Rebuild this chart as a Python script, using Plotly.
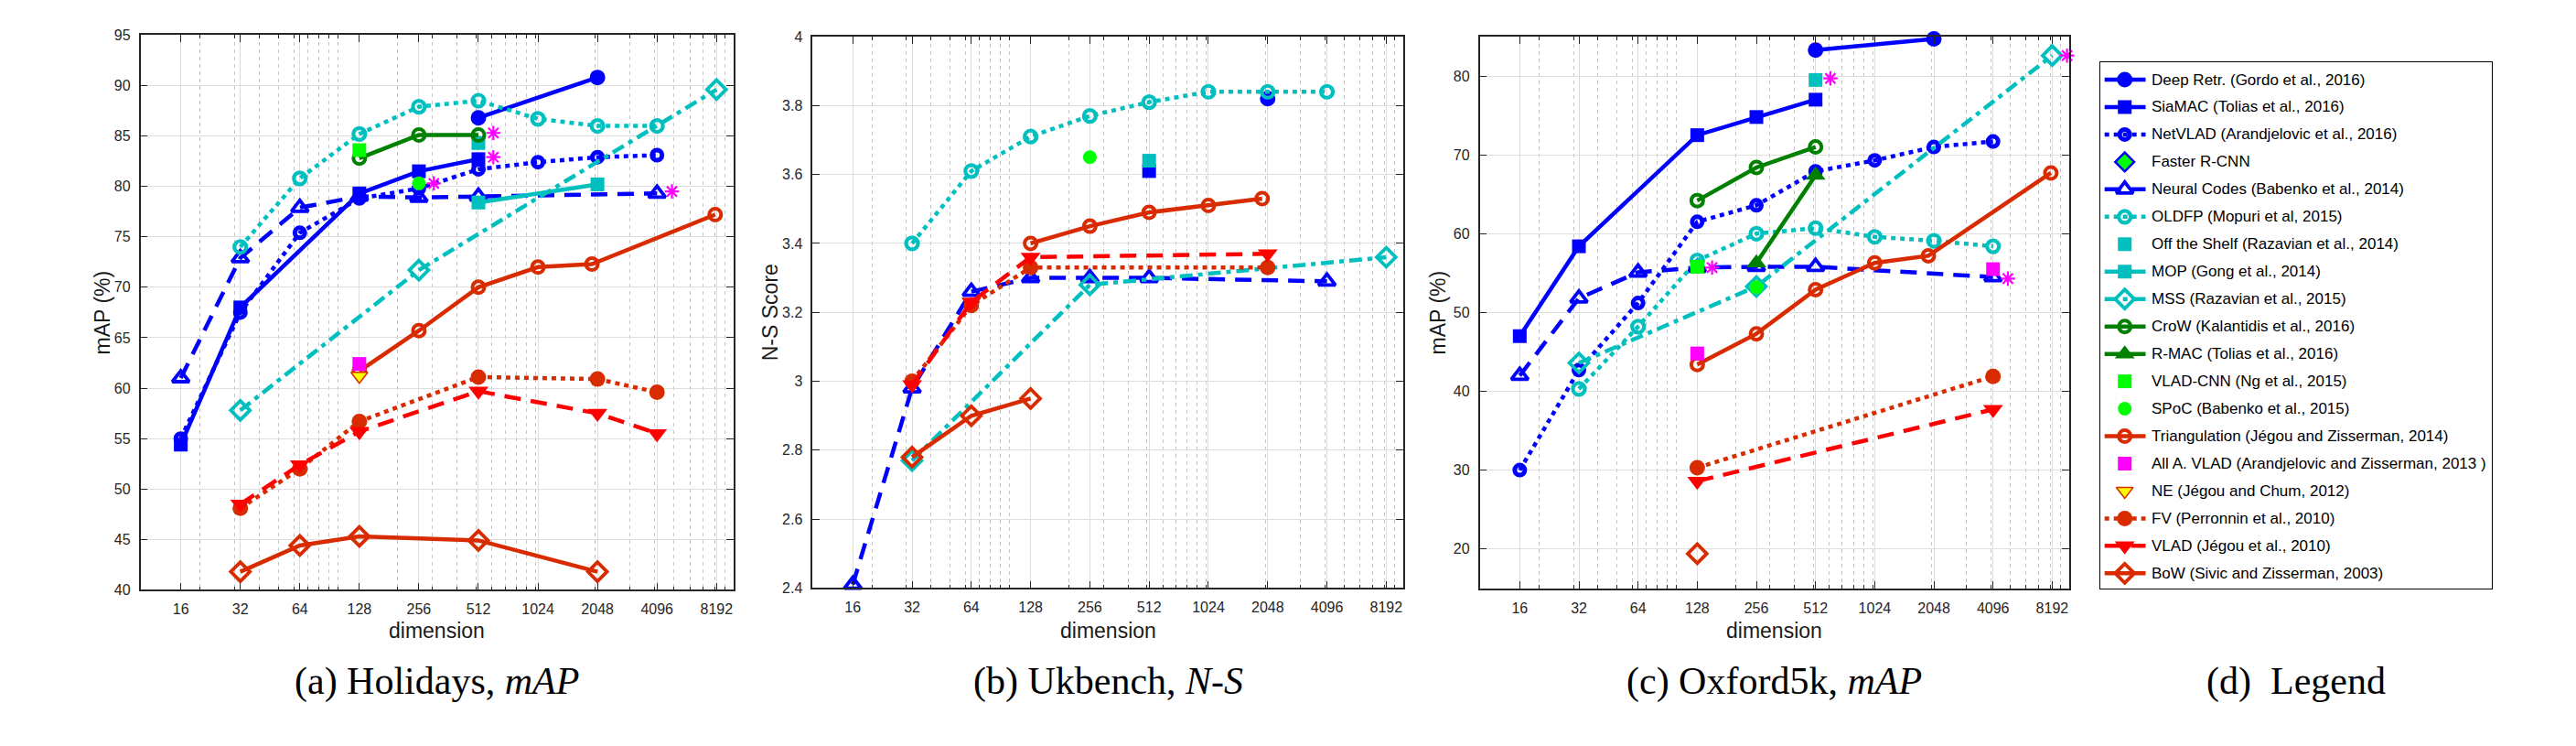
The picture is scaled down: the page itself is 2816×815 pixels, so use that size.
import plotly.graph_objects as go

W, H = 2816, 815

# ---------------- tick definitions ----------------
DIM_TICKS = [16, 32, 64, 128, 256, 512, 1024, 2048, 4096, 8192]
DIM_MINOR = [20, 30, 40, 50, 60, 70, 80, 90, 100, 200, 300, 400, 500, 600, 700, 800, 900,
             1000, 2000, 3000, 4000, 5000, 6000, 7000, 8000, 9000]
HOL_TICKS = [40, 45, 50, 55, 60, 65, 70, 75, 80, 85, 90, 95]
UKB_TICKS = [2.4, 2.6, 2.8, 3.0, 3.2, 3.4, 3.6, 3.8, 4.0]
UKB_TICK_TEXT = ["2.4", "2.6", "2.8", "3", "3.2", "3.4", "3.6", "3.8", "4"]
OXF_TICKS = [20, 30, 40, 50, 60, 70, 80]

# ---------------- (a) Holidays, mAP ----------------
HOL_DEEP_DIM = [512, 2048]
HOL_DEEP_VAL = [86.8, 90.8]
HOL_SIAMAC_DIM = [16, 32, 128, 256, 512]
HOL_SIAMAC_VAL = [54.4, 68.0, 79.3, 81.5, 82.7]
HOL_NETVLAD_DIM = [16, 32, 64, 128, 256, 512, 1024, 2048, 4096]
HOL_NETVLAD_VAL = [55.0, 67.5, 75.4, 78.8, 79.8, 81.7, 82.4, 82.9, 83.1]
HOL_NEURAL_DIM = [16, 32, 64, 128, 256, 512, 4096]
HOL_NEURAL_VAL = [61.0, 72.9, 77.9, 79.0, 78.9, 79.0, 79.3]
HOL_OLDFP_DIM = [32, 64, 128, 256, 512, 1024, 2048, 4096]
HOL_OLDFP_VAL = [74.0, 80.8, 85.2, 87.9, 88.5, 86.7, 86.0, 86.0]
HOL_SHELF_DIM = [512]
HOL_SHELF_VAL = [84.3]
HOL_MOP_DIM = [512, 2048]
HOL_MOP_VAL = [78.4, 80.2]
HOL_MSS_DIM = [32, 256, 8192]
HOL_MSS_VAL = [57.8, 71.7, 89.6]
HOL_CROW_DIM = [128, 256, 512]
HOL_CROW_VAL = [82.8, 85.1, 85.1]
HOL_VLADCNN_DIM = [128]
HOL_VLADCNN_VAL = [83.6]
HOL_SPOC_DIM = [256]
HOL_SPOC_VAL = [80.3]
HOL_TRI_DIM = [128, 256, 512, 1024, 1920, 8064]
HOL_TRI_VAL = [61.7, 65.7, 70.0, 72.0, 72.3, 77.2]
HOL_AAVLAD_DIM = [128]
HOL_AAVLAD_VAL = [62.4]
HOL_NE_DIM = [128]
HOL_NE_VAL = [61.2]
HOL_FV_DIM = [32, 64, 128, 512, 2048, 4096]
HOL_FV_VAL = [48.1, 52.0, 56.7, 61.1, 60.9, 59.6]
HOL_VLAD_DIM = [32, 64, 128, 512, 2048, 4096]
HOL_VLAD_VAL = [48.5, 52.4, 55.7, 59.7, 57.5, 55.5]
HOL_BOW_DIM = [32, 64, 128, 512, 2048]
HOL_BOW_VAL = [41.8, 44.4, 45.3, 44.9, 41.8]
HOL_STAR_DIM = [256, 512, 512, 4096]
HOL_STAR_VAL = [80.3, 85.3, 82.9, 79.5]

# ---------------- (b) Ukbench, N-S ----------------
UKB_DEEP_DIM = [2048]
UKB_DEEP_VAL = [3.82]
UKB_SIAMAC_DIM = [512]
UKB_SIAMAC_VAL = [3.61]
UKB_NEURAL_DIM = [16, 32, 64, 128, 256, 512, 4096]
UKB_NEURAL_VAL = [2.41, 2.98, 3.26, 3.30, 3.30, 3.30, 3.29]
UKB_OLDFP_DIM = [32, 64, 128, 256, 512, 1024, 2048, 4096]
UKB_OLDFP_VAL = [3.40, 3.61, 3.71, 3.77, 3.81, 3.84, 3.84, 3.84]
UKB_SHELF_DIM = [512]
UKB_SHELF_VAL = [3.64]
UKB_MSS_DIM = [32, 256, 8192]
UKB_MSS_VAL = [2.77, 3.28, 3.36]
UKB_SPOC_DIM = [256]
UKB_SPOC_VAL = [3.65]
UKB_TRI_DIM = [128, 256, 512, 1024, 1920]
UKB_TRI_VAL = [3.40, 3.45, 3.49, 3.51, 3.53]
UKB_FV_DIM = [32, 64, 128, 2048]
UKB_FV_VAL = [3.00, 3.22, 3.33, 3.33]
UKB_VLAD_DIM = [32, 64, 128, 2048]
UKB_VLAD_VAL = [2.99, 3.23, 3.36, 3.37]
UKB_BOW_DIM = [32, 64, 128]
UKB_BOW_VAL = [2.78, 2.90, 2.95]

# ---------------- (c) Oxford5k, mAP ----------------
OXF_DEEP_DIM = [512, 2048]
OXF_DEEP_VAL = [83.3, 84.7]
OXF_SIAMAC_DIM = [16, 32, 128, 256, 512]
OXF_SIAMAC_VAL = [47.0, 58.4, 72.5, 74.8, 77.0]
OXF_NETVLAD_DIM = [16, 32, 64, 128, 256, 512, 1024, 2048, 4096]
OXF_NETVLAD_VAL = [30.0, 42.7, 51.2, 61.5, 63.6, 67.9, 69.3, 71.0, 71.7]
OXF_NEURAL_DIM = [16, 32, 64, 128, 256, 512, 4096]
OXF_NEURAL_VAL = [42.0, 51.8, 55.1, 55.7, 55.8, 55.8, 54.5]
OXF_OLDFP_DIM = [32, 64, 128, 256, 512, 1024, 2048, 4096]
OXF_OLDFP_VAL = [40.3, 48.2, 56.6, 60.0, 60.7, 59.6, 59.1, 58.4]
OXF_SHELF_DIM = [512]
OXF_SHELF_VAL = [79.5]
OXF_MSS_DIM = [32, 256, 8192]
OXF_MSS_VAL = [43.6, 53.3, 82.6]
OXF_CROW_DIM = [128, 256, 512]
OXF_CROW_VAL = [64.2, 68.4, 71.0]
OXF_RMAC_DIM = [256, 512]
OXF_RMAC_VAL = [56.3, 67.4]
OXF_VLADCNN_DIM = [128]
OXF_VLADCNN_VAL = [55.8]
OXF_SPOC_DIM = [256]
OXF_SPOC_VAL = [53.2]
OXF_TRI_DIM = [128, 256, 512, 1024, 1920, 8064]
OXF_TRI_VAL = [43.4, 47.3, 52.9, 56.3, 57.2, 67.7]
OXF_AAVLAD_DIM = [128, 4096]
OXF_AAVLAD_VAL = [44.8, 55.5]
OXF_FV_DIM = [128, 4096]
OXF_FV_VAL = [30.3, 41.9]
OXF_VLAD_DIM = [128, 4096]
OXF_VLAD_VAL = [28.6, 37.7]
OXF_BOW_DIM = [128]
OXF_BOW_VAL = [19.4]
OXF_STAR_DIM = [128, 512, 4096, 8192]
OXF_STAR_VAL = [55.7, 79.7, 54.3, 82.6]

# ---------------- legend labels ----------------
METHODS = ["Deep Retr.", "SiaMAC", "NetVLAD", "Faster R-CNN", "Neural Codes", "OLDFP",
           "Off the Shelf", "MOP", "MSS", "CroW", "R-MAC", "VLAD-CNN", "SPoC",
           "Triangulation", "All A. VLAD", "NE", "FV", "VLAD", "BoW"]
LEGEND_LABELS = [
    "Deep Retr. (Gordo et al., 2016)",
    "SiaMAC (Tolias et al., 2016)",
    "NetVLAD (Arandjelovic et al., 2016)",
    "Faster R-CNN",
    "Neural Codes (Babenko et al., 2014)",
    "OLDFP (Mopuri et al, 2015)",
    "Off the Shelf (Razavian et al., 2014)",
    "MOP (Gong et al., 2014)",
    "MSS (Razavian et al., 2015)",
    "CroW (Kalantidis et al., 2016)",
    "R-MAC (Tolias et al., 2016)",
    "VLAD-CNN (Ng et al., 2015)",
    "SPoC (Babenko et al., 2015)",
    "Triangulation (Jégou and Zisserman, 2014)",
    "All A. VLAD (Arandjelovic and Zisserman, 2013 )",
    "NE (Jégou and Chum, 2012)",
    "FV (Perronnin et al., 2010)",
    "VLAD (Jégou et al., 2010)",
    "BoW (Sivic and Zisserman, 2003)",
]

# ---------------- styles ----------------
BLUE = "#0000FF"
CYAN = "#00BFBF"
DGREEN = "#008000"
LGREEN = "#00FF00"
ORED = "#D92B00"
RED = "#FF0000"
MAGENTA = "#FF00FF"
YELLOW = "#FFFF00"
AXC = "#262626"

SOLID = "solid"
DASH = "18px,11px"
DOT = "5px,5px"
DASHDOT = "14px,6px,5px,6px"
LW = 4.5

STYLES = {
    "Deep Retr.": dict(color=BLUE, dash=SOLID, symbol="circle", size=17, fill=BLUE, mlw=0),
    "SiaMAC": dict(color=BLUE, dash=SOLID, symbol="square", size=15, fill=BLUE, mlw=0),
    "NetVLAD": dict(color=BLUE, dash=DOT, symbol="circle-open", size=11, fill=None, mlw=5),
    "Faster R-CNN": dict(color=BLUE, dash=None, symbol="diamond", size=16, fill=LGREEN, mlw=2.5),
    "Neural Codes": dict(color=BLUE, dash=DASH, symbol="triangle-up-open", size=16, fill=None, mlw=3.8),
    "OLDFP": dict(color=CYAN, dash=DOT, symbol="circle-open", size=13, fill=None, mlw=4.2),
    "Off the Shelf": dict(color=CYAN, dash=None, symbol="square", size=15, fill=CYAN, mlw=0),
    "MOP": dict(color=CYAN, dash=SOLID, symbol="square", size=15, fill=CYAN, mlw=0),
    "MSS": dict(color=CYAN, dash=DASHDOT, symbol="diamond-open", size=16, fill=None, mlw=3.8),
    "CroW": dict(color=DGREEN, dash=SOLID, symbol="circle-open", size=13, fill=None, mlw=4),
    "R-MAC": dict(color=DGREEN, dash=SOLID, symbol="triangle-up", size=19, fill=DGREEN, mlw=0),
    "VLAD-CNN": dict(color=LGREEN, dash=None, symbol="square", size=15, fill=LGREEN, mlw=0),
    "SPoC": dict(color=LGREEN, dash=None, symbol="circle", size=15, fill=LGREEN, mlw=0),
    "Triangulation": dict(color=ORED, dash=SOLID, symbol="circle-open", size=13, fill=None, mlw=4),
    "All A. VLAD": dict(color=MAGENTA, dash=None, symbol="square", size=15, fill=MAGENTA, mlw=0),
    "NE": dict(color=ORED, dash=None, symbol="triangle-down", size=16, fill=YELLOW, mlw=1.5),
    "FV": dict(color=ORED, dash=DOT, symbol="circle", size=17, fill=ORED, mlw=0),
    "VLAD": dict(color=RED, dash=DASH, symbol="triangle-down", size=19, fill=RED, mlw=0),
    "BoW": dict(color=ORED, dash=SOLID, symbol="diamond-open", size=16, fill=None, mlw=3.8),
}
STAR_OFFSET = 1.19

PANELS = [
    ("x", "y", [
        ("Deep Retr.", HOL_DEEP_DIM, HOL_DEEP_VAL),
        ("SiaMAC", HOL_SIAMAC_DIM, HOL_SIAMAC_VAL),
        ("NetVLAD", HOL_NETVLAD_DIM, HOL_NETVLAD_VAL),
        ("Neural Codes", HOL_NEURAL_DIM, HOL_NEURAL_VAL),
        ("OLDFP", HOL_OLDFP_DIM, HOL_OLDFP_VAL),
        ("Off the Shelf", HOL_SHELF_DIM, HOL_SHELF_VAL),
        ("MOP", HOL_MOP_DIM, HOL_MOP_VAL),
        ("MSS", HOL_MSS_DIM, HOL_MSS_VAL),
        ("CroW", HOL_CROW_DIM, HOL_CROW_VAL),
        ("VLAD-CNN", HOL_VLADCNN_DIM, HOL_VLADCNN_VAL),
        ("SPoC", HOL_SPOC_DIM, HOL_SPOC_VAL),
        ("Triangulation", HOL_TRI_DIM, HOL_TRI_VAL),
        ("All A. VLAD", HOL_AAVLAD_DIM, HOL_AAVLAD_VAL),
        ("NE", HOL_NE_DIM, HOL_NE_VAL),
        ("FV", HOL_FV_DIM, HOL_FV_VAL),
        ("VLAD", HOL_VLAD_DIM, HOL_VLAD_VAL),
        ("BoW", HOL_BOW_DIM, HOL_BOW_VAL),
    ], (HOL_STAR_DIM, HOL_STAR_VAL)),
    ("x2", "y2", [
        ("Deep Retr.", UKB_DEEP_DIM, UKB_DEEP_VAL),
        ("SiaMAC", UKB_SIAMAC_DIM, UKB_SIAMAC_VAL),
        ("Neural Codes", UKB_NEURAL_DIM, UKB_NEURAL_VAL),
        ("OLDFP", UKB_OLDFP_DIM, UKB_OLDFP_VAL),
        ("Off the Shelf", UKB_SHELF_DIM, UKB_SHELF_VAL),
        ("MSS", UKB_MSS_DIM, UKB_MSS_VAL),
        ("SPoC", UKB_SPOC_DIM, UKB_SPOC_VAL),
        ("Triangulation", UKB_TRI_DIM, UKB_TRI_VAL),
        ("FV", UKB_FV_DIM, UKB_FV_VAL),
        ("VLAD", UKB_VLAD_DIM, UKB_VLAD_VAL),
        ("BoW", UKB_BOW_DIM, UKB_BOW_VAL),
    ], None),
    ("x3", "y3", [
        ("Deep Retr.", OXF_DEEP_DIM, OXF_DEEP_VAL),
        ("SiaMAC", OXF_SIAMAC_DIM, OXF_SIAMAC_VAL),
        ("NetVLAD", OXF_NETVLAD_DIM, OXF_NETVLAD_VAL),
        ("Neural Codes", OXF_NEURAL_DIM, OXF_NEURAL_VAL),
        ("OLDFP", OXF_OLDFP_DIM, OXF_OLDFP_VAL),
        ("Off the Shelf", OXF_SHELF_DIM, OXF_SHELF_VAL),
        ("MSS", OXF_MSS_DIM, OXF_MSS_VAL),
        ("CroW", OXF_CROW_DIM, OXF_CROW_VAL),
        ("R-MAC", OXF_RMAC_DIM, OXF_RMAC_VAL),
        ("VLAD-CNN", OXF_VLADCNN_DIM, OXF_VLADCNN_VAL),
        ("SPoC", OXF_SPOC_DIM, OXF_SPOC_VAL),
        ("Triangulation", OXF_TRI_DIM, OXF_TRI_VAL),
        ("All A. VLAD", OXF_AAVLAD_DIM, OXF_AAVLAD_VAL),
        ("FV", OXF_FV_DIM, OXF_FV_VAL),
        ("VLAD", OXF_VLAD_DIM, OXF_VLAD_VAL),
        ("BoW", OXF_BOW_DIM, OXF_BOW_VAL),
    ], (OXF_STAR_DIM, OXF_STAR_VAL)),
]


def marker_of(st):
    if st["fill"] is None:
        return dict(symbol=st["symbol"], size=st["size"], color=st["color"],
                    line=dict(color=st["color"], width=st["mlw"]))
    return dict(symbol=st["symbol"], size=st["size"], color=st["fill"],
                line=dict(color=st["color"], width=st["mlw"]))


fig = go.Figure()

for xa, ya, series, stars in PANELS:
    for name in METHODS:
        for sname, dims, vals in series:
            if sname != name:
                continue
            st = STYLES[name]
            has_line = st["dash"] is not None and len(dims) > 1
            fig.add_trace(go.Scatter(
                x=dims, y=vals, xaxis=xa, yaxis=ya,
                mode="lines+markers" if has_line else "markers",
                line=dict(color=st["color"], width=LW, dash=st["dash"] or "solid"),
                marker=marker_of(st), cliponaxis=False, showlegend=False,
                name=name))
    if stars is not None:
        fig.add_trace(go.Scatter(
            x=[d * STAR_OFFSET for d in stars[0]], y=stars[1], xaxis=xa, yaxis=ya,
            mode="markers", cliponaxis=False, showlegend=False,
            marker=dict(symbol="asterisk-open", size=13, color=MAGENTA,
                        line=dict(color=MAGENTA, width=2.2))))

# ---------------- manual legend (axis 4) ----------------
LEG_ROW0 = 19.7
LEG_STEP = 30.6
LEG_LINE_X = [4.7, 49.5]
LEG_MARK_X = 26.7
LEG_TEXT_X = 54
for i, name in enumerate(METHODS):
    st = STYLES[name]
    yrow = LEG_ROW0 + LEG_STEP * i
    if st["dash"] is not None:
        fig.add_trace(go.Scatter(
            x=LEG_LINE_X, y=[yrow, yrow], xaxis="x4", yaxis="y4", mode="lines",
            line=dict(color=st["color"], width=LW, dash=st["dash"]),
            showlegend=False, cliponaxis=False))
    fig.add_trace(go.Scatter(
        x=[LEG_MARK_X], y=[yrow], xaxis="x4", yaxis="y4", mode="markers",
        marker=marker_of(st), showlegend=False, cliponaxis=False))

annotations = []
for i, label in enumerate(LEGEND_LABELS):
    annotations.append(dict(
        x=LEG_TEXT_X, y=LEG_ROW0 + LEG_STEP * i, xref="x4", yref="y4",
        text=label, showarrow=False, xanchor="left", yanchor="middle",
        font=dict(family="Liberation Sans, Arial, sans-serif", size=17, color="black")))

# ---------------- axes ----------------
SANS = "Liberation Sans, Arial, sans-serif"
TICKFONT = dict(family=SANS, size=16, color=AXC)
GRID = "#DEDEDE"
MINORGRID = "#C4C4C4"


def px_dom_x(a, b):
    return [a / W, b / W]


def px_dom_y(top, bottom):
    return [(H - bottom) / H, (H - top) / H]


def xaxis_cfg(dom, anchor):
    return dict(
        type="log", range=[1, 4], domain=dom, anchor=anchor,
        tickmode="array", tickvals=DIM_TICKS, ticktext=[str(v) for v in DIM_TICKS],
        ticks="inside", ticklen=8, tickwidth=1, tickcolor=AXC,
        showline=True, linecolor=AXC, linewidth=1.5, mirror="ticks",
        showgrid=True, gridcolor=GRID, gridwidth=1,
        tickfont=TICKFONT, ticklabelstandoff=6, zeroline=False,
        minor=dict(tickmode="array", tickvals=DIM_MINOR, ticks="inside", ticklen=4,
                   tickcolor=AXC, tickwidth=1, showgrid=True, gridcolor=MINORGRID,
                   gridwidth=1, griddash="4px,4px"),
    )


def yaxis_cfg(dom, anchor, rng, vals, text=None):
    return dict(
        range=rng, domain=dom, anchor=anchor,
        tickmode="array", tickvals=vals, ticktext=text or [str(v) for v in vals],
        ticks="inside", ticklen=8, tickwidth=1, tickcolor=AXC,
        showline=True, linecolor=AXC, linewidth=1.5, mirror="ticks",
        showgrid=True, gridcolor=GRID, gridwidth=1,
        tickfont=TICKFONT, ticklabelstandoff=6, zeroline=False,
    )


A_X, B_X, C_X = (153.5, 802), (888.3, 1534), (1617.5, 2262)
A_Y, B_Y, C_Y = (31, 650), (32.7, 648), (32.7, 648.3)
L_X, L_Y = (2296, 2724), (61, 649)

layout = dict(
    width=W, height=H, margin=dict(l=0, r=0, t=0, b=0),
    paper_bgcolor="white", plot_bgcolor="white", showlegend=False,
    xaxis=xaxis_cfg(px_dom_x(*A_X), "y"),
    yaxis=yaxis_cfg(px_dom_y(*A_Y), "x", [40, 95], HOL_TICKS),
    xaxis2=xaxis_cfg(px_dom_x(*B_X), "y2"),
    yaxis2=yaxis_cfg(px_dom_y(*B_Y), "x2", [2.4, 4.0], UKB_TICKS, UKB_TICK_TEXT),
    xaxis3=xaxis_cfg(px_dom_x(*C_X), "y3"),
    yaxis3=yaxis_cfg(px_dom_y(*C_Y), "x3", [15, 85], OXF_TICKS),
    xaxis4=dict(domain=px_dom_x(*L_X), anchor="y4", range=[0, L_X[1] - L_X[0]],
                showgrid=False, zeroline=False, showticklabels=False, ticks="",
                showline=True, linecolor="black", linewidth=1.2, mirror=True),
    yaxis4=dict(domain=px_dom_y(*L_Y), anchor="x4", range=[L_Y[1] - L_Y[0], 0],
                showgrid=False, zeroline=False, showticklabels=False, ticks="",
                showline=True, linecolor="black", linewidth=1.2, mirror=True),
)

# axis titles and captions
TITLE_FONT = dict(family=SANS, size=23, color="#1a1a1a")
CAP_FONT = dict(family="Liberation Serif, Times New Roman, serif", size=42, color="black")
for (x0, x1), (y0, y1), ytitle, ytx, cap in [
        (A_X, A_Y, "mAP (%)", 112, "(a) Holidays, <i>mAP</i>"),
        (B_X, B_Y, "N-S Score", 842, "(b) Ukbench, <i>N-S</i>"),
        (C_X, C_Y, "mAP (%)", 1572, "(c) Oxford5k, <i>mAP</i>")]:
    cx = (x0 + x1) / 2
    annotations.append(dict(x=cx / W, y=(H - 695) / H, xref="paper", yref="paper",
                            text="dimension", showarrow=False, xanchor="center",
                            yanchor="middle", font=TITLE_FONT))
    annotations.append(dict(x=ytx / W, y=(H - (y0 + y1) / 2) / H, xref="paper", yref="paper",
                            text=ytitle, showarrow=False, textangle=-90, xanchor="center",
                            yanchor="middle", font=TITLE_FONT))
    annotations.append(dict(x=cx / W, y=(H - 752) / H, xref="paper", yref="paper",
                            text=cap, showarrow=False, xanchor="center", yanchor="middle",
                            font=CAP_FONT))
annotations.append(dict(x=((L_X[0] + L_X[1]) / 2) / W, y=(H - 752) / H, xref="paper",
                        yref="paper", text="(d)  Legend", showarrow=False,
                        xanchor="center", yanchor="middle", font=CAP_FONT))

layout["annotations"] = annotations
fig.update_layout(**layout)
fig.write_html("out.html")
